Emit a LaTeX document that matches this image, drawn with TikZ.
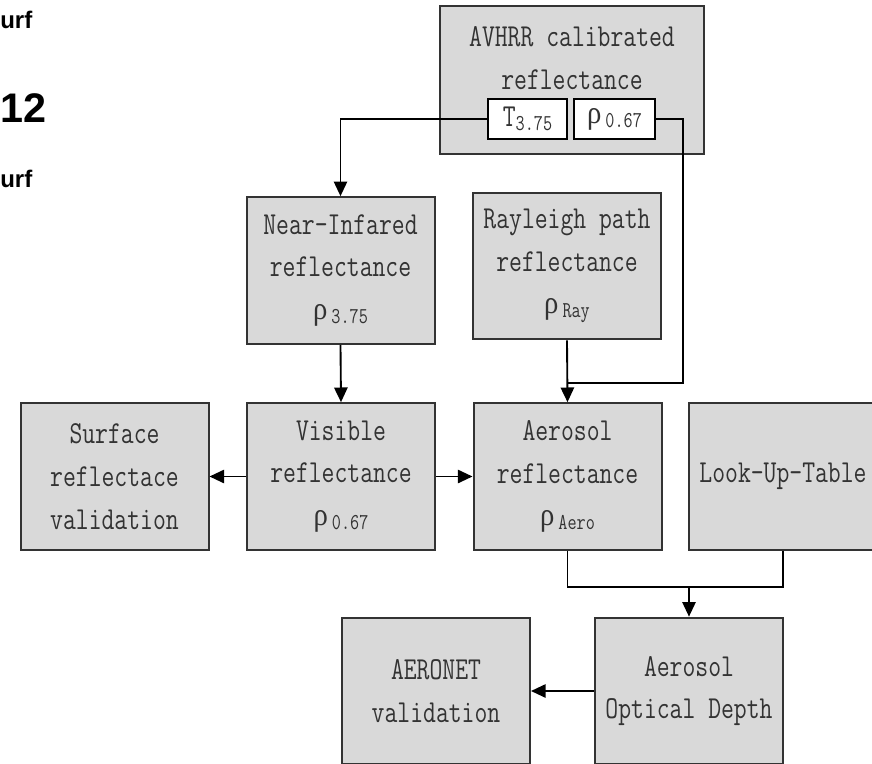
\documentclass[tikz,border=0pt]{standalone}
\usepackage{fontspec}
\newfontfamily\boxfont[FakeStretch=0.78]{Latin Modern Mono}
\newfontfamily\rhofont[FakeStretch=0.9]{Liberation Serif}
\newfontfamily\headfont{Liberation Sans}
\usetikzlibrary{arrows.meta}
\newcommand{\lowsub}[1]{\raisebox{-3pt}{\fontsize{17}{17}\selectfont #1}}
\newcommand{\rhochar}{{\rhofont ρ}}

\begin{document}
\begin{tikzpicture}[x=0.75pt, y=-0.75pt, >={Triangle[length=11pt,width=10pt]},
  blk/.style={draw=black!80, fill=gray!30, line width=1.5pt, minimum width=141pt,
    minimum height=110pt, inner sep=0pt, align=center, text=black!80,
    font=\boxfont\fontsize{24}{32}\selectfont},
  subblk/.style={draw=black, fill=white, line width=1.2pt, minimum width=59pt,
    minimum height=30pt, inner sep=0pt, text=black!80,
    font=\boxfont\fontsize{24}{32}\selectfont},
  conn/.style={line width=1.4pt, black},
  cut/.style={font=\headfont\bfseries, anchor=base west, inner sep=0pt}]
  \clip (0,0) rectangle (872,764);

  % clipped text at the left margin
  \node[cut, font=\headfont\bfseries\fontsize{18}{18}\selectfont] (cuta) at (0,28) {urf};
  \node[cut, font=\headfont\bfseries\fontsize{31}{31}\selectfont] (cutb) at (0,122) {12};
  \node[cut, font=\headfont\bfseries\fontsize{18}{18}\selectfont] (cutc) at (0,187) {urf};

  % input
  \node[blk, minimum width=198pt, minimum height=111pt] (avhrr) at (572,80) {};
  \node[align=center, text=black!80, font=\boxfont\fontsize{24}{32}\selectfont]
    (avhrrlbl) at (572,58) {AVHRR calibrated\\reflectance};
  \node[subblk] (t375) at (527.5,119) {T\lowsub{3.75}};
  \node[subblk, minimum width=61pt] (r067) at (614.5,119) {\rhochar\hspace{3pt}\lowsub{0.67}};

  % boxes
  \node[blk] (nearir) at (340.5,270.5) {Near-Infared\\reflectance\\\rhochar\hspace{3pt}\lowsub{3.75}};
  \node[blk] (rayleigh) at (567,266) {Rayleigh path\\reflectance\\\rhochar\hspace{3pt}\lowsub{Ray}};
  \node[blk] (surface) at (114.5,476.5) {Surface\\reflectace\\validation};
  \node[blk] (visible) at (341,476.5) {Visible\\reflectance\\\rhochar\hspace{3pt}\lowsub{0.67}};
  \node[blk] (aerosol) at (567.5,476.5) {Aerosol\\reflectance\\\rhochar\hspace{3pt}\lowsub{Aero}};
  \node[blk] (lut) at (783,476.5) {Look-Up-Table};
  \node[blk] (aeronet) at (436,691) {AERONET\\validation};
  \node[blk] (aod) at (689,691) {Aerosol\\Optical Depth};

  \coordinate (bend) at (683,383);
  \coordinate (join) at (689,587);

  % connectors
  \draw[conn, ->] (t375.west) -| (nearir.north);
  \draw[conn] (r067.east) -| (bend) -- (aerosol.north |- bend);
  \draw[conn, ->] (rayleigh.south) -- (aerosol.north);
  \draw[conn, ->] (nearir.south) -- (visible.north);
  \draw[conn, ->] (visible.west) -- (surface.east);
  \draw[conn, ->] (visible.east) -- (aerosol.west);
  \draw[conn] (aerosol.south) |- (join) -| (lut.south);
  \draw[conn, ->] (join) -- (aod.north);
  \draw[conn, ->] (aod.west) -- (aeronet.east);
\end{tikzpicture}
\end{document}
